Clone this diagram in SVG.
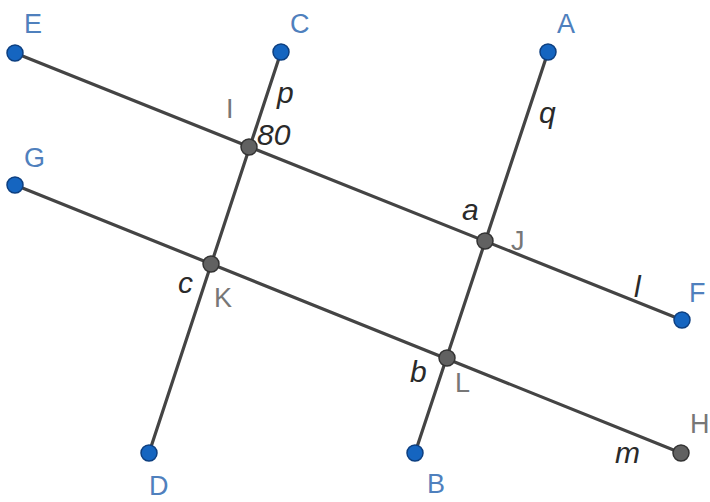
<svg xmlns="http://www.w3.org/2000/svg" width="710" height="502" viewBox="0 0 710 502">
<style>
.ln{stroke:#444;stroke-width:3.2;fill:none;stroke-linecap:round}
.pb{fill:#1565c0;stroke:#0d3f80;stroke-width:1.5}
.pg{fill:#616161;stroke:#333;stroke-width:1.5}
.lb{font-family:"Liberation Sans","DejaVu Sans",sans-serif;font-size:27px;fill:#4f80bd}
.lg{font-family:"Liberation Sans","DejaVu Sans",sans-serif;font-size:27px;fill:#777}
.it{font-family:"Liberation Sans","DejaVu Sans",sans-serif;font-size:30px;font-style:italic;fill:#2a2a2a}
</style>
<rect width="710" height="502" fill="#fff"/>
<g id="connectors">
<line class="ln" x1="15" y1="53" x2="682" y2="320"/>
<line class="ln" x1="15" y1="185" x2="681" y2="453"/>
<line class="ln" x1="281" y1="52" x2="149" y2="453"/>
<line class="ln" x1="548" y1="52" x2="415" y2="453"/>
</g>
<g id="line-labels">
<text class="it" x="277" y="103">p</text>
<text class="it" x="257" y="145">80</text>
<text class="it" x="539" y="123">q</text>
<text class="it" x="462" y="220">a</text>
<text class="it" x="178" y="293">c</text>
<text class="it" x="634" y="297">l</text>
<text class="it" x="410" y="382">b</text>
<text class="it" x="615" y="463">m</text>
</g>
<g id="E"><circle class="pb" cx="15" cy="53" r="8"/><text class="lb" x="24" y="33">E</text></g>
<g id="C"><circle class="pb" cx="281" cy="52" r="8"/><text class="lb" x="290" y="33">C</text></g>
<g id="A"><circle class="pb" cx="548" cy="52" r="8"/><text class="lb" x="557" y="33">A</text></g>
<g id="G"><circle class="pb" cx="15" cy="185" r="8"/><text class="lb" x="24" y="167">G</text></g>
<g id="F"><circle class="pb" cx="682" cy="320" r="8"/><text class="lb" x="689" y="302">F</text></g>
<g id="D"><circle class="pb" cx="149" cy="453" r="8"/><text class="lb" x="149" y="495">D</text></g>
<g id="B"><circle class="pb" cx="415" cy="453" r="8"/><text class="lb" x="427" y="493">B</text></g>
<g id="H"><circle class="pg" cx="681" cy="453" r="8"/><text class="lg" x="690" y="433">H</text></g>
<g id="I"><circle class="pg" cx="249" cy="147" r="8"/><text class="lg" x="226" y="118">I</text></g>
<g id="J"><circle class="pg" cx="485" cy="241" r="8"/><text class="lg" x="511" y="250">J</text></g>
<g id="K"><circle class="pg" cx="211" cy="264" r="8"/><text class="lg" x="214" y="307">K</text></g>
<g id="L"><circle class="pg" cx="447" cy="358" r="8"/><text class="lg" x="455" y="392">L</text></g>
</svg>
